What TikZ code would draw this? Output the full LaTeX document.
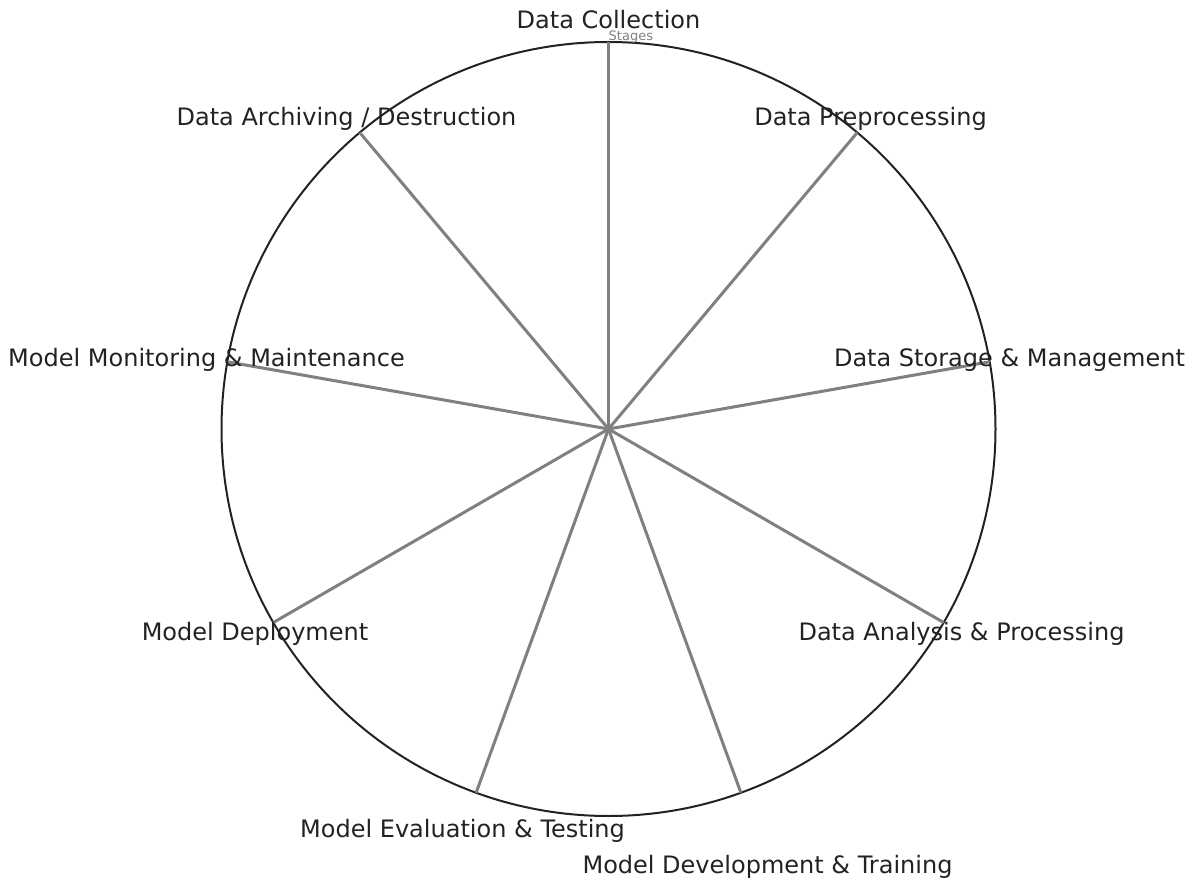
\documentclass[tikz,border=0pt]{standalone}
\usepackage{fontspec}
\setmainfont{DejaVu Sans}
\usetikzlibrary{calc}
\definecolor{txt}{HTML}{222222}
\definecolor{spoke}{HTML}{808080}
\begin{document}
\begin{tikzpicture}[x=1pt,y=1pt,
  lbl/.style={anchor=base,inner sep=0pt,text=txt,font=\fontsize{24}{28}\selectfont},
  spk/.style={draw=spoke,line width=3pt},
  rim/.style={draw=txt,line width=2pt}]
\useasboundingbox (0,0) rectangle (1195,-880);
\coordinate (c) at (608.5,-429);
\draw[rim] (c) circle (387);
\foreach \a/\n in {90/s1,50/s2,10/s3,-30/s4,-70/s5,-110/s6,-150/s7,170/s8,130/s9}{
  \coordinate (\n) at ($(c)+(\a:387)$);
}
\foreach \n in {s1,s2,s3,s4,s5,s6,s7,s8,s9}{
  \draw[spk] (c) -- (\n);
}
\node[lbl] (l1) at (608.5,-29) {Data Collection};
\node[lbl] (l2) at (870.5,-125.5) {Data Preprocessing};
\node[lbl] (l3) at (1009.5,-366) {Data Storage \& Management};
\node[lbl] (l4) at (961.5,-640) {Data Analysis \& Processing};
\node[lbl] (l5) at (767.5,-873) {Model Development \& Training};
\node[lbl] (l6) at (462.5,-837) {Model Evaluation \& Testing};
\node[lbl] (l7) at (255,-640) {Model Deployment};
\node[lbl] (l8) at (206.5,-366) {Model Monitoring \& Maintenance};
\node[lbl] (l9) at (346.5,-125.5) {Data Archiving / Destruction};
\node[anchor=base west,inner sep=0pt,text=spoke,font=\fontsize{13}{15}\selectfont] (st) at (608.5,-40.5) {Stages};
\end{tikzpicture}
\end{document}
